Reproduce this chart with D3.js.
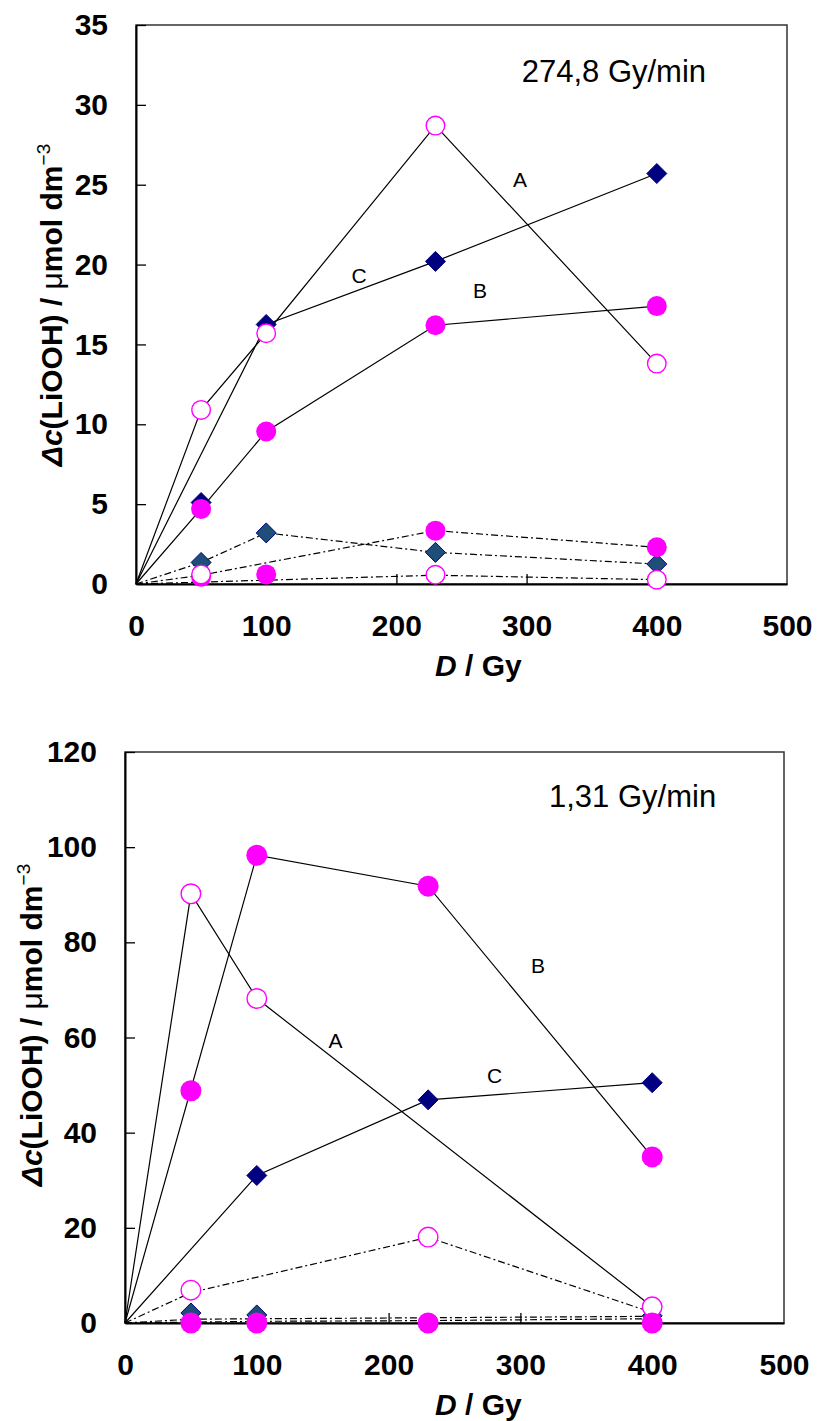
<!DOCTYPE html>
<html>
<head>
<meta charset="utf-8">
<script src="https://cdn.jsdelivr.net/npm/d3@7"></script>
<style>
  html, body { margin: 0; padding: 0; background: #fff; }
  svg { display: block; font-family: "Liberation Sans", Arial, sans-serif; }
</style>
</head>
<body>
<svg id="chart" width="817" height="1421"></svg>
<script>
// ---------- DATA ----------
const xTicks = [0, 100, 200, 300, 400, 500];
const yTicksTop = [0, 5, 10, 15, 20, 25, 30, 35];
const yTicksBottom = [0, 20, 40, 60, 80, 100, 120];
const rateTop = "274,8 Gy/min";
const rateBottom = "1,31 Gy/min";

// Top panel (274,8 Gy/min) — [dose, value]
const topA_line  = [[0,0],[50,10.9],[100,15.7],[230,28.7],[400,13.8]];
const topA_marks = [[50,10.9],[100,15.7],[230,28.7],[400,13.8]];
const topB_line  = [[0,0],[50,4.7],[100,9.55],[230,16.2],[400,17.4]];
const topB_marks = [[50,4.7],[100,9.55],[230,16.2],[400,17.4]];
const topC_line  = [[0,0],[100,16.25],[230,20.2],[400,25.7]];
const topC_marks = [[50,5.1],[100,16.25],[230,20.2],[400,25.7]];
const topDd_line  = [[0,0],[50,1.35],[100,3.2],[230,1.98],[400,1.25]];
const topDd_marks = [[50,1.35],[100,3.2],[230,1.98],[400,1.25]];
const topDf_line  = [[0,0],[50,0.55],[230,3.34],[400,2.3]];
const topDf_marks = [[50,0.45],[100,0.6],[230,3.34],[400,2.3]];
const topDo_line  = [[0,0],[230,0.55],[400,0.27]];
const topDo_marks = [[50,0.6],[230,0.58],[400,0.27]];

// Bottom panel (1,31 Gy/min)
const botA_line  = [[0,0],[50,90.2],[100,68.2],[400,3.4]];
const botA_marks = [[50,90.2],[100,68.2],[400,3.4]];
const botB_line  = [[0,0],[100,98.3],[230,91.8],[400,34.9]];
const botB_marks = [[50,48.8],[100,98.3],[230,91.8],[400,34.9]];
const botC_line  = [[0,0],[100,31],[230,46.9],[400,50.5]];
const botC_marks = [[100,31],[230,46.9],[400,50.5]];
const botDo_line  = [[0,0],[50,6.4],[230,18],[400,2.2]];
const botDo_marks = [[50,6.9],[230,18.05]];
const botDd_line  = [[0,0],[50,0.8],[230,1.1],[400,1.4]];
const botDd_marks = [[50,2.1],[100,1.7],[400,1.5]];
const botDf_line  = [[0,0],[100,0.35],[230,0.5],[400,0.9]];
const botDf_marks = [[50,0],[100,0],[230,0],[400,0]];

const labelsTop = [{t:"A", x:520, y:186.7},{t:"B", x:480, y:297.7},{t:"C", x:359, y:282.7}];
const labelsBot = [{t:"A", x:335.5, y:1048.3},{t:"B", x:538, y:973.3},{t:"C", x:494.7, y:1083.3}];

// ---------- DRAW ----------
const svg = d3.select("#chart");
const MAG = "#FF00FF", NAVY = "#000080", STEEL = "#1F4E79";
const DASH = "7,3,2,3";

function panel(cfg) {
  const x = d3.scaleLinear().domain([0, 500]).range([cfg.left, cfg.right]);
  const y = d3.scaleLinear().domain([0, cfg.ymax]).range([cfg.bottom, cfg.top]);
  const g = svg.append("g");

  // frame (top/right)
  g.append("rect").attr("x", cfg.left).attr("y", cfg.top)
    .attr("width", cfg.right - cfg.left).attr("height", cfg.bottom - cfg.top)
    .attr("fill", "none").attr("stroke", "#333").attr("stroke-width", 1.5);

  // axes
  const ya = g.append("g").attr("transform", `translate(${cfg.left},0)`)
    .call(d3.axisLeft(y).tickValues(cfg.yTicks).tickSize(-10).tickSizeOuter(0).tickPadding(28));
  const xa = g.append("g").attr("transform", `translate(0,${cfg.bottom})`)
    .call(d3.axisBottom(x).tickValues(xTicks).tickSize(-10).tickSizeOuter(0).tickPadding(31));
  [ya, xa].forEach(a => {
    a.select(".domain").attr("stroke", "#000").attr("stroke-width", 2);
    a.selectAll(".tick line").attr("stroke", "#000").attr("stroke-width", 1.3);
    a.selectAll(".tick text").attr("font-size", 30).attr("font-weight", "bold")
      .attr("fill", "#000").attr("font-family", "'Liberation Sans', Arial, sans-serif");
  });
  xa.selectAll(".tick").filter(d => d === 0 || d === 500).select("line").remove();
  ya.selectAll(".tick").filter(d => d === 0).select("line").remove();

  const line = d3.line().x(d => x(d[0])).y(d => y(d[1]));
  const lg = g.append("g").attr("fill", "none").attr("stroke", "#000").attr("stroke-width", 1.2);
  cfg.solid.forEach(s => lg.append("path").attr("d", line(s)));
  cfg.dashed.forEach(s => lg.append("path").attr("d", line(s)).attr("stroke-dasharray", DASH));

  const mg = g.append("g");
  const diamond = (data, fill, r) => mg.selectAll(null).data(data).enter().append("path")
    .attr("d", d => { const cx = x(d[0]), cy = y(d[1]);
      return `M${cx},${cy - r}L${cx + r},${cy}L${cx},${cy + r}L${cx - r},${cy}Z`; })
    .attr("fill", fill).attr("stroke", NAVY).attr("stroke-width", 1);
  const filled = (data) => mg.selectAll(null).data(data).enter().append("circle")
    .attr("cx", d => x(d[0])).attr("cy", d => y(d[1])).attr("r", cfg.r).attr("fill", MAG);
  const open = (data) => mg.selectAll(null).data(data).enter().append("circle")
    .attr("cx", d => x(d[0])).attr("cy", d => y(d[1])).attr("r", cfg.r - 0.7)
    .attr("fill", "#fff").attr("stroke", MAG).attr("stroke-width", 1.4);

  cfg.order.forEach(o => {
    if (o[0] === "d") diamond(o[1], NAVY, 10);
    else if (o[0] === "ds") diamond(o[1], STEEL, 10);
    else if (o[0] === "f") filled(o[1]);
    else open(o[1]);
  });

  // curve labels
  g.selectAll(null).data(cfg.labels).enter().append("text")
    .attr("x", d => d.x).attr("y", d => d.y).attr("text-anchor", "middle")
    .attr("font-size", 21).attr("fill", "#000").text(d => d.t);

  // rate annotation
  g.append("text").attr("x", cfg.rateX).attr("y", cfg.rateY)
    .attr("font-size", 31).attr("fill", "#000").text(cfg.rate);

  // x title
  const xt = g.append("text").attr("x", cfg.xtX).attr("y", cfg.bottom + 92)
    .attr("font-size", 30).attr("font-weight", "bold").attr("fill", "#000");
  xt.append("tspan").attr("font-style", "italic").text("D");
  xt.append("tspan").text(" / Gy");

  // y title
  const yt = g.append("text").attr("transform", `translate(${cfg.ytX},${cfg.ytY}) rotate(-90)`)
    .attr("text-anchor", "middle").attr("font-size", 30).attr("font-weight", "bold").attr("fill", "#000");
  yt.append("tspan").attr("font-style", "italic").text("Δc");
  yt.append("tspan").text("(LiOOH) / ");
  yt.append("tspan").attr("font-weight", "normal").text("μ");
  yt.append("tspan").text("mol dm");
  yt.append("tspan").attr("font-size", 19).attr("font-weight", "normal").attr("dy", -12).text("−3");
}

panel({
  left: 136, right: 787, top: 25, bottom: 584, ymax: 35, yTicks: yTicksTop, r: 10,
  solid: [topA_line, topB_line, topC_line],
  dashed: [topDd_line, topDf_line, topDo_line],
  order: [["d", topC_marks], ["ds", topDd_marks], ["f", topB_marks], ["f", topDf_marks], ["o", topA_marks], ["o", topDo_marks]],
  labels: labelsTop, rate: rateTop, rateX: 521.7, rateY: 81.7,
  xtX: 435, ytX: 61.5, ytY: 305
});

panel({
  left: 125, right: 784, top: 752, bottom: 1323, ymax: 120, yTicks: yTicksBottom, r: 10.5,
  solid: [botA_line, botB_line, botC_line],
  dashed: [botDo_line, botDd_line, botDf_line],
  order: [["d", botC_marks], ["ds", botDd_marks], ["o", botA_marks], ["o", botDo_marks], ["f", botB_marks], ["f", botDf_marks]],
  labels: labelsBot, rate: rateBottom, rateX: 549, rateY: 806.7,
  xtX: 435, ytX: 41.5, ytY: 1025
});
</script>
</body>
</html>
